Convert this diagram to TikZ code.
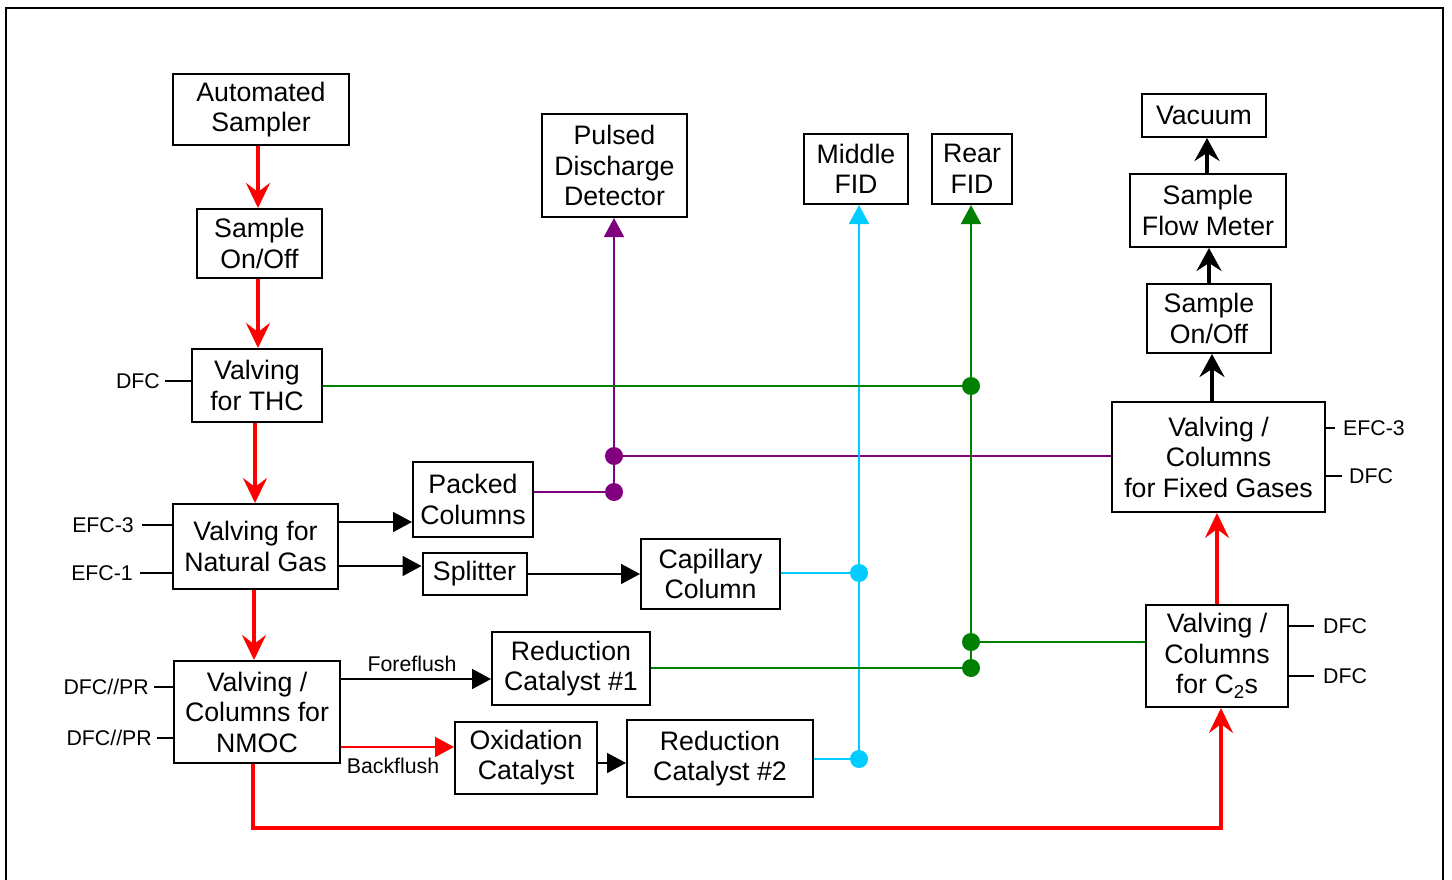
\documentclass[tikz,border=0pt]{standalone}
\usepackage{fontspec}
\setmainfont{Liberation Sans}
\usetikzlibrary{arrows.meta}
\definecolor{cred}{RGB}{255,0,0}
\definecolor{cgreen}{RGB}{0,128,0}
\definecolor{cpurple}{RGB}{128,0,128}
\definecolor{ccyan}{RGB}{0,204,255}
\begin{document}
\begin{tikzpicture}[x=1pt,y=-1pt,
  box/.style={draw, line width=2pt, align=center, inner sep=0pt,
    font=\fontsize{26.7}{30.5}\selectfont},
  lab/.style={inner sep=0pt, font=\fontsize{21.3}{24}\selectfont},
  dotnode/.style={circle, fill=#1, minimum size=18pt, inner sep=0pt},
  redthick/.style={draw=cred, line width=3.5pt, -{Stealth[length=25pt,width=24pt,inset=9pt]}},
  redloop/.style={draw=cred, line width=3.5pt, line join=miter},
  blackthick/.style={draw=black, line width=3.5pt, -{Stealth[length=23pt,width=25pt,inset=8pt]}},
  thinarrow/.style={draw=#1, line width=1.8pt, -{Triangle[length=19pt,width=20pt]}},
  thinline/.style={draw=#1, line width=1.8pt},
  stub/.style={draw=black, line width=1.6pt}]
\useasboundingbox (0,0) rectangle (1452,880);
\draw[line width=2pt] (6,880) -- (6,8) -- (1443,8) -- (1443,880);

% boxes
\node[box, minimum width=176pt, minimum height=71pt] (as) at (261,109.5) {Automated\\Sampler};
\node[box, minimum width=125pt, minimum height=69pt] (so1) at (259.5,243.5) {Sample\\On/Off};
\node[box, minimum width=130pt, minimum height=73pt] (thc) at (257,385.5) {Valving\\for THC};
\node[box, minimum width=165pt, minimum height=85pt] (ng) at (255.5,546.5) {Valving for\\Natural Gas};
\node[box, minimum width=166pt, minimum height=102pt] (nm) at (257,712) {Valving /\\Columns for\\NMOC};
\node[box, minimum width=120pt, minimum height=75pt] (pk) at (473,499.5) {Packed\\Columns};
\node[box, minimum width=104pt, minimum height=42pt] (sp) at (474.5,574) {Splitter};
\node[box, minimum width=139pt, minimum height=70pt] (cap) at (710.5,574) {Capillary\\Column};
\node[box, minimum width=158pt, minimum height=73pt] (rc1) at (571,668.5) {Reduction\\Catalyst \#1};
\node[box, minimum width=142pt, minimum height=72pt] (ox) at (526,757.5) {Oxidation\\Catalyst};
\node[box, minimum width=186pt, minimum height=77pt] (rc2) at (720,758.5) {Reduction\\Catalyst \#2};
\node[box, minimum width=145pt, minimum height=103pt] (pdd) at (614.5,165.5) {Pulsed\\Discharge\\Detector};
\node[box, minimum width=104pt, minimum height=70pt] (mfid) at (856,169) {Middle\\FID};
\node[box, minimum width=80pt, minimum height=70pt] (rfid) at (972,169) {Rear\\FID};
\node[box, minimum width=124pt, minimum height=43pt] (vac) at (1204,115.5) {Vacuum};
\node[box, minimum width=156pt, minimum height=73pt] (sfm) at (1208,210.5) {Sample\\Flow Meter};
\node[box, minimum width=124pt, minimum height=69pt] (so2) at (1209,318.5) {Sample\\On/Off};
\node[box, minimum width=213pt, minimum height=110pt] (fg) at (1218.5,457) {Valving /\\Columns\\for Fixed Gases};
\node[box, minimum width=142pt, minimum height=102pt] (c2) at (1217,656) {Valving /\\Columns\\for C\textsubscript{2}s};

% helper coordinates
\coordinate (xa) at (258,0);
\coordinate (xb) at (255,0);
\coordinate (xc) at (254,0);
\coordinate (lb) at (253,828);
\coordinate (rb) at (1221,828);
\coordinate (xr) at (1217,0);
\coordinate (xk1) at (1212,0);
\coordinate (xk2) at (1209,0);
\coordinate (xk3) at (1207,0);
\coordinate (ypk) at (0,522);
\coordinate (ysp) at (0,566);
\coordinate (yff) at (0,679);
\coordinate (ybf) at (0,747);
\coordinate (yox) at (0,763);

% dots
\node[dotnode=cpurple] (pd1) at (614,456) {};
\node[dotnode=cpurple] (pd2) at (614,492) {};
\node[dotnode=ccyan] (cd1) at (859,573) {};
\node[dotnode=ccyan] (cd2) at (859,759) {};
\node[dotnode=cgreen] (gd1) at (971,386) {};
\node[dotnode=cgreen] (gd2) at (971,642) {};
\node[dotnode=cgreen] (gd3) at (971,668) {};

% red main flow
\draw[redthick] (as.south -| xa) -- (so1.north -| xa);
\draw[redthick] (so1.south -| xa) -- (thc.north -| xa);
\draw[redthick] (thc.south -| xb) -- (ng.north -| xb);
\draw[redthick] (ng.south -| xc) -- (nm.north -| xc);
\draw[redloop] (nm.south -| lb) -- (lb) -- (rb) -- ([yshift=-20pt]c2.south -| rb);
\draw[redthick] ([yshift=-22pt]c2.south -| rb) -- (c2.south -| rb);
\draw[redthick] (c2.north -| xr) -- (fg.south -| xr);

% black thick right column
\draw[blackthick] (fg.north -| xk1) -- (so2.south -| xk1);
\draw[blackthick] (so2.north -| xk2) -- (sfm.south -| xk2);
\draw[blackthick] (sfm.north -| xk3) -- (vac.south -| xk3);

% thin black arrows
\draw[thinarrow=black] (ng.east |- ypk) -- (pk.west |- ypk);
\draw[thinarrow=black] (ng.east |- ysp) -- (sp.west |- ysp);
\draw[thinarrow=black] (sp.east) -- (sp.east -| cap.west);
\draw[thinarrow=black] (nm.east |- yff) -- (rc1.west |- yff);
\draw[thinarrow=cred] (nm.east |- ybf) -- (ox.west |- ybf);
\draw[thinarrow=black] (ox.east |- yox) -- (rc2.west |- yox);
\node[lab] (ffl) at (412,664) {Foreflush};
\node[lab] (bfl) at (393,766) {Backflush};

% purple
\draw[thinline=cpurple] (pk.east |- pd2) -- (pd2);
\draw[thinline=cpurple] (fg.west |- pd1) -- (pd1);
\draw[thinarrow=cpurple] (pd2) -- (pdd.south -| pd2);

% cyan
\draw[thinline=ccyan] (cap.east |- cd1) -- (cd1);
\draw[thinline=ccyan] (rc2.east |- cd2) -- (cd2);
\draw[thinarrow=ccyan] (cd2) -- (mfid.south -| cd2);

% green
\draw[thinline=cgreen] (thc.east |- gd1) -- (gd1);
\draw[thinline=cgreen] (rc1.east |- gd3) -- (gd3);
\draw[thinline=cgreen] (c2.west |- gd2) -- (gd2);
\draw[thinarrow=cgreen] (gd3) -- (rfid.south -| gd3);

% side labels with stubs (left)
\node[lab, anchor=east] (l1) at (160,381) {DFC};
\draw[stub] (thc.west |- l1) -- ([xshift=5pt]l1.east);
\node[lab, anchor=east] (l2) at (134,525) {EFC-3};
\draw[stub] (ng.west |- l2) -- ([xshift=8pt]l2.east);
\node[lab, anchor=east] (l3) at (133,573) {EFC-1};
\draw[stub] (ng.west |- l3) -- ([xshift=7pt]l3.east);
\node[lab, anchor=east] (l4) at (149,687) {DFC//PR};
\draw[stub] (nm.west |- l4) -- ([xshift=5pt]l4.east);
\node[lab, anchor=east] (l5) at (152,738) {DFC//PR};
\draw[stub] (nm.west |- l5) -- ([xshift=5pt]l5.east);

% side labels (right)
\node[lab, anchor=west] (r1) at (1343,428) {EFC-3};
\draw[stub] (fg.east |- r1) -- ([xshift=-8pt]r1.west);
\node[lab, anchor=west] (r2) at (1349,476) {DFC};
\draw[stub] (fg.east |- r2) -- ([xshift=-7pt]r2.west);
\node[lab, anchor=west] (r3) at (1323,626) {DFC};
\draw[stub] (c2.east |- r3) -- ([xshift=-9pt]r3.west);
\node[lab, anchor=west] (r4) at (1323,676) {DFC};
\draw[stub] (c2.east |- r4) -- ([xshift=-9pt]r4.west);
\end{tikzpicture}
\end{document}
